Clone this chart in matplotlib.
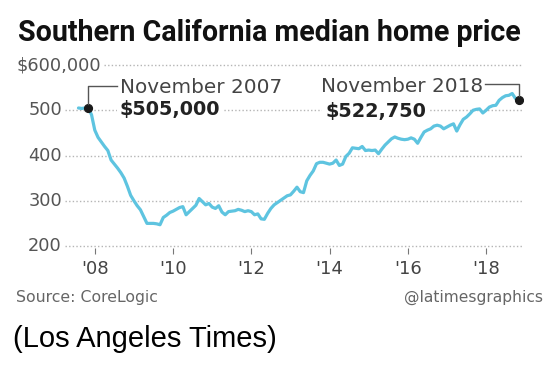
import numpy as np
import matplotlib
matplotlib.use("Agg")
import matplotlib.pyplot as plt
from matplotlib.lines import Line2D
from matplotlib.transforms import IdentityTransform

# Southern California median home price, $ thousands, monthly Aug 2007 .. Nov 2018
start_year, start_month = 2007, 8
price_k = [
    505, 504, 505, 505, 490,                                  # 2007 Aug-Dec
    456, 440, 430, 420, 411, 390, 381, 372, 362, 350, 332, 312,  # 2008
    300, 289, 280, 265, 250, 250, 250, 249, 247, 263, 268, 274,  # 2009
    277, 281, 285, 287, 269, 276, 283, 290, 305, 298, 291, 294,  # 2010
    286, 283, 289, 275, 269, 276, 277, 278, 281, 279, 276, 278,  # 2011
    276, 269, 271, 260, 259, 272, 283, 291, 296, 301, 306, 311,  # 2012
    313, 321, 330, 320, 318, 344, 356, 366, 382, 385, 385, 383,  # 2013
    381, 383, 390, 378, 381, 398, 405, 417, 416, 415, 420, 411,  # 2014
    412, 411, 412, 404, 414, 423, 430, 437, 441, 438, 436, 435,  # 2015
    436, 439, 436, 427, 440, 452, 456, 459, 465, 467, 465, 459,  # 2016
    463, 467, 470, 454, 468, 480, 485, 492, 500, 502, 503, 494,  # 2017
    500, 507, 510, 511, 522, 528, 532, 533, 537, 526, 522.75,    # 2018 Jan-Nov
]
tick_years = [2008, 2010, 2012, 2014, 2016, 2018]
tick_labels = ["'08", "'10", "'12", "'14", "'16", "'18"]
grid_levels = [200, 300, 400, 500, 600]
grid_labels = ["200", "300", "400", "500", "$600,000"]
note_idx = [3, 135]
note_month = ["November 2007", "November 2018"]
note_value = ["$505,000", "$522,750"]

plt.rcParams['font.family'] = ['DejaVu Sans']

months = start_year + (start_month - 1 + np.arange(len(price_k))) / 12
price = np.array(price_k, dtype=float)

W, H = 554, 370
fig = plt.figure(figsize=(W / 100, H / 100), dpi=100)
ax = fig.add_axes([15 / W, 1 - 248 / H, 508 / W, 188 / H])
ax.set_xlim(2005.961, 2018.943)
ax.set_ylim(195.6, 611.05)
for s in ax.spines.values():
    s.set_visible(False)
ax.set_yticks([])
ax.set_xticks(tick_years, tick_labels)
ax.tick_params(axis='x', length=4.3, width=0.8, color='#777777',
               labelcolor='#444444', labelsize=13, pad=4)

# y labels, then dotted gridlines starting after each label
gray = '#555555'
labels = []
for lev, lab in zip(grid_levels, grid_labels):
    if lab.startswith('$'):
        t = ax.text(0.0033, lev, lab, ha='left', va='center', color=gray,
                    fontsize=12.8, transform=ax.get_yaxis_transform())
    else:
        t = ax.text(0.0925, lev, lab, ha='right', va='center', color=gray,
                    fontsize=12.8, transform=ax.get_yaxis_transform())
    labels.append(t)
fig.canvas.draw()
for lev, t in zip(grid_levels, labels):
    x1 = t.get_window_extent().x1
    frac = ax.transAxes.inverted().transform((x1 + 3, 0))[0]
    ax.axhline(lev, xmin=frac, xmax=1, color='#b5b5b5', lw=1.0,
               ls=(0, (1, 1.6)), zorder=1)

ax.plot(months, price, color='#5ec4e0', lw=2.3, solid_joinstyle='round',
        solid_capstyle='round', zorder=3)
ax.plot(months[note_idx], price[note_idx], 'o', color='#1a1a1a', ms=5.6, zorder=4)

box = dict(fc='white', ec='none', pad=2)
# offsets in pixels from each dot
ax.annotate(note_month[0], (months[note_idx[0]], price[note_idx[0]]),
            xytext=(31.7, 14.7), textcoords='offset pixels', ha='left',
            va='baseline', fontsize=14.4, color='#444444', bbox=box, zorder=2)
ax.annotate(note_value[0], (months[note_idx[0]], price[note_idx[0]]),
            xytext=(31.7, -7.3), textcoords='offset pixels', ha='left',
            va='baseline', fontsize=13.9, fontweight='bold', color='#222222',
            bbox=box, zorder=2)
ax.annotate(note_month[1], (months[note_idx[1]], price[note_idx[1]]),
            xytext=(-35.7, 7.7), textcoords='offset pixels', ha='right',
            va='baseline', fontsize=14.4, color='#444444', bbox=box, zorder=2)
ax.annotate(note_value[1], (months[note_idx[1]], price[note_idx[1]]),
            xytext=(-193.7, -17.3), textcoords='offset pixels', ha='left',
            va='baseline', fontsize=13.9, fontweight='bold', color='#222222',
            bbox=box, zorder=2)

d0 = ax.transData.transform((months[note_idx[0]], price[note_idx[0]]))
d1 = ax.transData.transform((months[note_idx[1]], price[note_idx[1]]))
fig.add_artist(Line2D([d0[0], d0[0], d0[0] + 28.7],
                      [d0[1] + 3.5, d0[1] + 21.7, d0[1] + 21.7],
                      transform=IdentityTransform(), color='#555555', lw=1))
fig.add_artist(Line2D([d1[0] - 33.7, d1[0] + 0.6, d1[0] + 0.6],
                      [d1[1] + 16, d1[1] + 16, d1[1] + 3.5],
                      transform=IdentityTransform(), color='#555555', lw=1))

fig.text(18.3 / W, 1 - 40.7 / H, "Southern California median home price",
         ha='left', va='baseline', fontsize=20.6, fontweight='bold',
         color='#111111', family=['Roboto', 'DejaVu Sans'])
fig.text(16 / W, 1 - 302 / H, "Source: CoreLogic", ha='left', va='baseline',
         fontsize=11.3, color='#666666')
fig.text(543 / W, 1 - 302 / H, "@latimesgraphics", ha='right', va='baseline',
         fontsize=11.2, color='#666666')
fig.text(13 / W, 1 - 347 / H, "(Los Angeles Times)", ha='left', va='baseline',
         fontsize=21, color='black', family=['Liberation Sans', 'DejaVu Sans'])

fig.savefig("out.png", dpi=100)
